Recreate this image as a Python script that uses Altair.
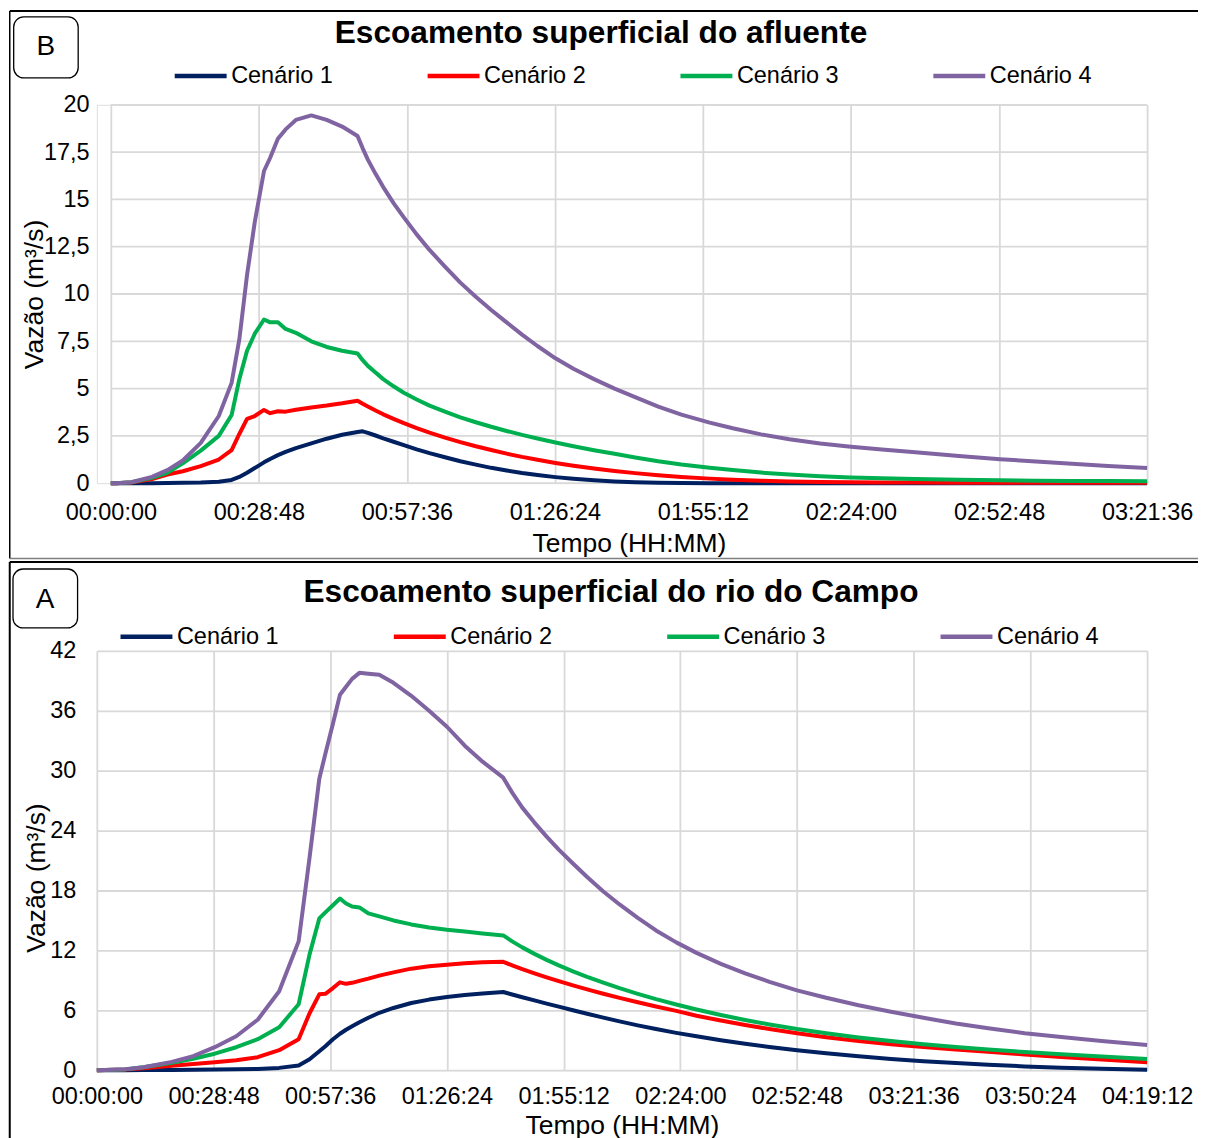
import json
import altair as alt
import pandas as pd

FONT = "Liberation Sans"
SERIES = ["Cenário 1", "Cenário 2", "Cenário 3", "Cenário 4"]
COLORS = ["#002060", "#FF0000", "#00B050", "#8064A2"]
GRID = "#D9D9D9"

TITLE_B = "Escoamento superficial do afluente"
TITLE_A = "Escoamento superficial do rio do Campo"
LETTER_B = "B"
LETTER_A = "A"
Y_TITLE = "Vazão (m³/s)"
X_TITLE = "Tempo (HH:MM)"

TICK_STEP_S = 1728  # 28 min 48 s
X_LABELS_B = ["00:00:00", "00:28:48", "00:57:36", "01:26:24", "01:55:12",
              "02:24:00", "02:52:48", "03:21:36"]
X_LABELS_A = ["00:00:00", "00:28:48", "00:57:36", "01:26:24", "01:55:12",
              "02:24:00", "02:52:48", "03:21:36", "03:50:24", "04:19:12"]
Y_TICKS_B = [0, 2.5, 5, 7.5, 10, 12.5, 15, 17.5, 20]
Y_LABELS_B = ["0", "2,5", "5", "7,5", "10", "12,5", "15", "17,5", "20"]
Y_TICKS_A = [0, 6, 12, 18, 24, 30, 36, 42]
Y_LABELS_A = ["0", "6", "12", "18", "24", "30", "36", "42"]

# ---- Panel B (afluente): time in minutes, flow in m3/s ----
T_B = [0, 1, 4, 8, 11, 14, 17.5, 21, 23.5, 25, 26.5, 28, 29.8, 31, 32.5, 34, 36, 39, 42, 45,
       48, 49, 50, 51.5, 53, 55, 57, 59.5, 62, 65, 68, 71, 74, 77, 80, 83, 86.5, 90, 94, 98,
       102, 106.5, 111, 116.5, 121, 126.5, 132, 138, 144, 150, 156.5, 165, 173, 180, 187, 194,
       201.6]
B_C4 = [0, 0, 0.05, 0.33, 0.69, 1.2, 2.13, 3.55, 5.3, 7.6, 11.0, 13.8, 16.5, 17.2, 18.2, 18.7,
        19.2, 19.44, 19.2, 18.85,
        18.35, 17.7, 17.1, 16.35, 15.65, 14.8, 14.05, 13.15, 12.33, 11.45, 10.6, 9.85, 9.15,
        8.5, 7.85, 7.25, 6.6, 6.05, 5.5, 5.0, 4.55, 4.05, 3.62, 3.2, 2.9, 2.58, 2.32, 2.1,
        1.93, 1.78, 1.63, 1.44, 1.27, 1.14, 1.02, 0.91, 0.8]
B_C3 = [0, 0, 0.05, 0.28, 0.55, 1.05, 1.72, 2.5, 3.6, 5.5, 7.0, 7.9, 8.65, 8.5, 8.5, 8.15,
        7.95, 7.5, 7.2, 7.0,
        6.85, 6.5, 6.2, 5.85, 5.5, 5.12, 4.78, 4.42, 4.1, 3.78, 3.48, 3.22, 2.98, 2.76, 2.55,
        2.36, 2.15, 1.95, 1.74, 1.55, 1.36, 1.16, 0.99, 0.82, 0.69, 0.56, 0.46, 0.37, 0.3,
        0.26, 0.22, 0.18, 0.15, 0.13, 0.12, 0.11, 0.1]
B_C2 = [0, 0, 0.04, 0.22, 0.46, 0.63, 0.9, 1.25, 1.75, 2.6, 3.4, 3.55, 3.87, 3.7, 3.8, 3.78,
        3.88, 4.0, 4.1, 4.22,
        4.36, 4.2, 4.05, 3.84, 3.64, 3.4, 3.17, 2.91, 2.67, 2.41, 2.17, 1.95, 1.75, 1.56,
        1.39, 1.24, 1.07, 0.92, 0.77, 0.64, 0.53, 0.42, 0.33, 0.24, 0.18, 0.13, 0.09, 0.065,
        0.05, 0.04, 0.03, 0.025, 0.02, 0.02, 0.02, 0.02, 0.02]
B_C1 = [0, 0, 0, 0, 0.01, 0.02, 0.03, 0.07, 0.17, 0.33, 0.55, 0.8, 1.1, 1.28, 1.48, 1.65,
        1.85, 2.1, 2.35, 2.56,
        2.7, 2.74, 2.66, 2.52, 2.37, 2.19, 2.01, 1.79, 1.59, 1.37, 1.16, 0.98, 0.81, 0.67,
        0.54, 0.43, 0.32, 0.23, 0.15, 0.09, 0.05, 0.02, 0.01, 0, 0, 0, 0, 0, 0, 0, 0, 0, 0,
        0, 0, 0, 0]

# ---- Panel A (rio do Campo) ----
T_A = [0, 7, 11.5, 18.5, 23.8, 29.1, 34.4, 39.7, 45, 49.8, 52.5, 54.9, 56.4, 58.2, 60, 61.5,
       63, 64.8, 67, 69.7, 73.2, 77.6, 82, 86.4, 90.8, 95.2, 100.3, 102.5, 105, 108, 111, 114,
       117.5, 121, 125, 129, 133.5, 138, 143, 148, 154, 160, 166, 172.8, 180, 188, 196, 204,
       212, 220, 229, 238, 248, 259.2]
A_C4 = [0, 0.1, 0.3, 0.83, 1.4, 2.3, 3.4, 5.05, 7.9, 12.9, 21.3, 29.2, 31.7, 34.6, 37.6, 38.4,
        39.2, 39.8, 39.7, 39.6, 38.8, 37.5, 36.0, 34.4, 32.5, 30.9, 29.3,
        27.8, 26.3, 24.8, 23.4, 22.1, 20.7, 19.35, 17.9, 16.6, 15.25, 14.0, 12.8, 11.75,
        10.65, 9.7, 8.85, 8.0, 7.25, 6.5, 5.85, 5.25, 4.68, 4.2, 3.7, 3.33, 2.93, 2.52]
A_C3 = [0, 0.08, 0.3, 0.75, 1.15, 1.65, 2.3, 3.1, 4.3, 6.6, 11.6, 15.2, 15.8, 16.5, 17.2,
        16.7, 16.4, 16.3, 15.7, 15.4, 15.0, 14.6, 14.3, 14.07, 13.9, 13.7, 13.5,
        12.9, 12.3, 11.65, 11.05, 10.5, 9.9, 9.35, 8.77, 8.22, 7.65, 7.12, 6.58, 6.08, 5.53,
        5.03, 4.58, 4.12, 3.7, 3.28, 2.92, 2.6, 2.32, 2.07, 1.82, 1.6, 1.38, 1.13]
A_C2 = [0, 0.06, 0.2, 0.45, 0.62, 0.8, 1.0, 1.3, 2.0, 3.1, 5.7, 7.6, 7.65, 8.2, 8.8, 8.65,
        8.75, 8.95, 9.17, 9.47, 9.8, 10.17, 10.4, 10.57, 10.7, 10.8, 10.85,
        10.5, 10.12, 9.7, 9.3, 8.92, 8.5, 8.1, 7.66, 7.24, 6.8, 6.38, 5.94, 5.45, 4.97, 4.53,
        4.12, 3.7, 3.3, 2.92, 2.6, 2.33, 2.08, 1.84, 1.57, 1.33, 1.08, 0.8]
A_C1 = [0, 0, 0.01, 0.02, 0.04, 0.06, 0.09, 0.13, 0.23, 0.47, 1.1, 1.9, 2.4, 3.07, 3.65,
        4.05, 4.4, 4.8, 5.25, 5.75, 6.23, 6.73, 7.07, 7.33, 7.53, 7.67, 7.83,
        7.58, 7.31, 6.99, 6.67, 6.36, 6.0, 5.65, 5.26, 4.89, 4.49, 4.12, 3.74, 3.39, 3.0,
        2.65, 2.33, 2.0, 1.69, 1.39, 1.13, 0.9, 0.71, 0.54, 0.38, 0.25, 0.14, 0.05]


def long_df(times, series_vals):
    rows = []
    for name, vals in zip(SERIES, series_vals):
        assert len(vals) == len(times), (name, len(vals), len(times))
        for t, v in zip(times, vals):
            rows.append({"t": t * 60, "v": v, "s": name})
    return pd.DataFrame(rows)


ONE = pd.DataFrame({"k": [0]})
FRAME_RIGHT = 1103


def hrule(x1, x2, y, color, width):
    return alt.Chart(ONE).mark_rule(color=color, strokeWidth=width).encode(
        x=alt.value(x1), x2=alt.value(x2), y=alt.value(y))


def vrule(x, y1, y2, color, width):
    return alt.Chart(ONE).mark_rule(color=color, strokeWidth=width).encode(
        x=alt.value(x), y=alt.value(y1), y2=alt.value(y2))


def text_layer(txt, x, y, size, weight="normal"):
    return alt.Chart(pd.DataFrame({"txt": [txt]})).mark_text(
        font=FONT, fontSize=size, fontWeight=weight, color="black",
        align="center", baseline="alphabetic").encode(
        text="txt:N", x=alt.value(x), y=alt.value(y))


def panel(df, g):
    W, H = g["W"], g["H"]
    x_labels = g["x_labels"]
    xmax = (len(x_labels) - 1) * TICK_STEP_S
    x_ticks = [i * TICK_STEP_S for i in range(len(x_labels))]
    y_ticks, y_labels = g["y_ticks"], g["y_labels"]
    ymax = y_ticks[-1]
    xscale = alt.Scale(domain=[0, xmax], range=[g["x0"], W], nice=False, zero=False)
    yscale = alt.Scale(domain=[0, ymax], nice=False, zero=False)
    x_expr = json.dumps(x_labels) + f"[round(datum.value / {TICK_STEP_S})]"
    y_expr = json.dumps(y_labels) + f"[round(datum.value / {y_ticks[1]})]"

    xaxis = alt.Axis(
        values=x_ticks, labelExpr=x_expr, grid=True, gridColor=GRID, gridWidth=1.8,
        domain=False, ticks=False, tickSize=0, labelPadding=g["xlabpad"],
        labelFontSize=23.5, labelFont=FONT, labelColor="black", labelFlush=False,
        labelOverlap=False, title=X_TITLE, titleFont=FONT, titleFontSize=26.5,
        titleFontWeight="normal", titleColor="black", titleX=g["xtitle_x"],
        titleY=g["xtitle_y"], titleBaseline="alphabetic", titleAlign="center")
    yaxis_kw = dict(
        values=y_ticks, labelExpr=y_expr, grid=not g["manual_ygrid"], gridColor=GRID,
        gridWidth=1.8, domain=False, ticks=False, tickSize=0, offset=g["yoffset"],
        labelPadding=g["ylabpad"], labelFontSize=23.5, labelFont=FONT,
        labelColor="black", labelOverlap=False, title=Y_TITLE, titleFont=FONT,
        titleFontSize=26.5, titleFontWeight="normal", titleColor="black",
        titleX=g["ytitle_x"], titleBaseline="alphabetic")
    if g.get("ytitle_y") is not None:
        yaxis_kw["titleY"] = g["ytitle_y"]
    yaxis = alt.Axis(**yaxis_kw)

    layers = []
    # frame and decorations
    layers.append(hrule(g["fx"], FRAME_RIGHT, g["ftop"], "black", 2))
    layers.append(vrule(g["fx"], g["ftop"], g["fbot"], "black", g["fw"]))
    if g.get("bottom_line") is not None:
        layers.append(hrule(g["fx"], FRAME_RIGHT, g["bottom_line"], "#7F7F7F", 1.5))
    bx = g["box"]
    layers.append(alt.Chart(ONE).mark_rect(cornerRadius=10, fill="white", stroke="black",
                                           strokeWidth=1.3).encode(
        x=alt.value(bx[0]), x2=alt.value(bx[1]), y=alt.value(bx[2]), y2=alt.value(bx[3])))
    layers.append(text_layer(g["letter"], g["letter_xy"][0], g["letter_xy"][1], 28))
    layers.append(text_layer(g["title"], g["title_xy"][0], g["title_xy"][1], 31.7, "bold"))

    if g["manual_ygrid"]:
        layers.append(alt.Chart(pd.DataFrame({"v": y_ticks})).mark_rule(
            color=GRID, strokeWidth=1.8).encode(
            y=alt.Y("v:Q", scale=yscale, axis=yaxis),
            x=alt.X(datum=0, type="quantitative", scale=xscale, axis=xaxis),
            x2=alt.X2(datum=xmax)))

    lines = alt.Chart(df).mark_line(strokeWidth=4, strokeJoin="round").encode(
        x=alt.X("t:Q", scale=xscale, axis=xaxis),
        y=alt.Y("v:Q", scale=yscale, axis=yaxis),
        color=alt.Color("s:N", scale=alt.Scale(domain=SERIES, range=COLORS),
                        legend=alt.Legend(
                            orient="none", legendX=g["legx"], legendY=g["legy"],
                            direction="horizontal", columns=4, title=None,
                            symbolType="stroke", symbolSize=2704, symbolStrokeWidth=4.5,
                            labelFontSize=23.5, labelFont=FONT, labelColor="black",
                            labelOffset=2, columnPadding=g["colpad"], padding=0,
                            labelLimit=0)),
    )
    layers.append(lines)
    return alt.layer(*layers).properties(width=W, height=H)


top = panel(long_df(T_B, [B_C1, B_C2, B_C3, B_C4]), dict(
    W=1052, H=379, x0=14, x_labels=X_LABELS_B, y_ticks=Y_TICKS_B, y_labels=Y_LABELS_B,
    fx=-87.25, ftop=-94, fbot=454.5, fw=1.5, bottom_line=454.5,
    box=(-83.3, -18.7, -88, -27), letter=LETTER_B, letter_xy=(-51, -50),
    title=TITLE_B, title_xy=(505, -61.5),
    manual_ygrid=True, xlabpad=17, xtitle_x=533, xtitle_y=68.7,
    yoffset=-14, ylabpad=21.7, ytitle_x=-68.5, ytitle_y=None,
    legx=75.5, legy=-57.3, colpad=85.3))

bottom = panel(long_df(T_A, [A_C1, A_C2, A_C3, A_C4]), dict(
    W=1052, H=420, x0=0, x_labels=X_LABELS_A, y_ticks=Y_TICKS_A, y_labels=Y_LABELS_A,
    fx=-87.25, ftop=-89, fbot=500, fw=2, bottom_line=None,
    box=(-84, -19.3, -82, -23), letter=LETTER_A, letter_xy=(-52, -43),
    title=TITLE_A, title_xy=(515, -48.5),
    manual_ygrid=False, xlabpad=14.5, xtitle_x=526, xtitle_y=63.5,
    yoffset=0, ylabpad=21, ytitle_x=-52.6, ytitle_y=227,
    legx=21.2, legy=-42.7, colpad=105.8))

chart = alt.vconcat(top, bottom, spacing=0).resolve_scale(
    color="independent").resolve_legend(color="independent").properties(
    padding=0, background="white").configure_view(
    strokeWidth=0, stroke="transparent").configure(font=FONT)

chart.save("out.html", embed_options={"renderer": "svg", "actions": False})
